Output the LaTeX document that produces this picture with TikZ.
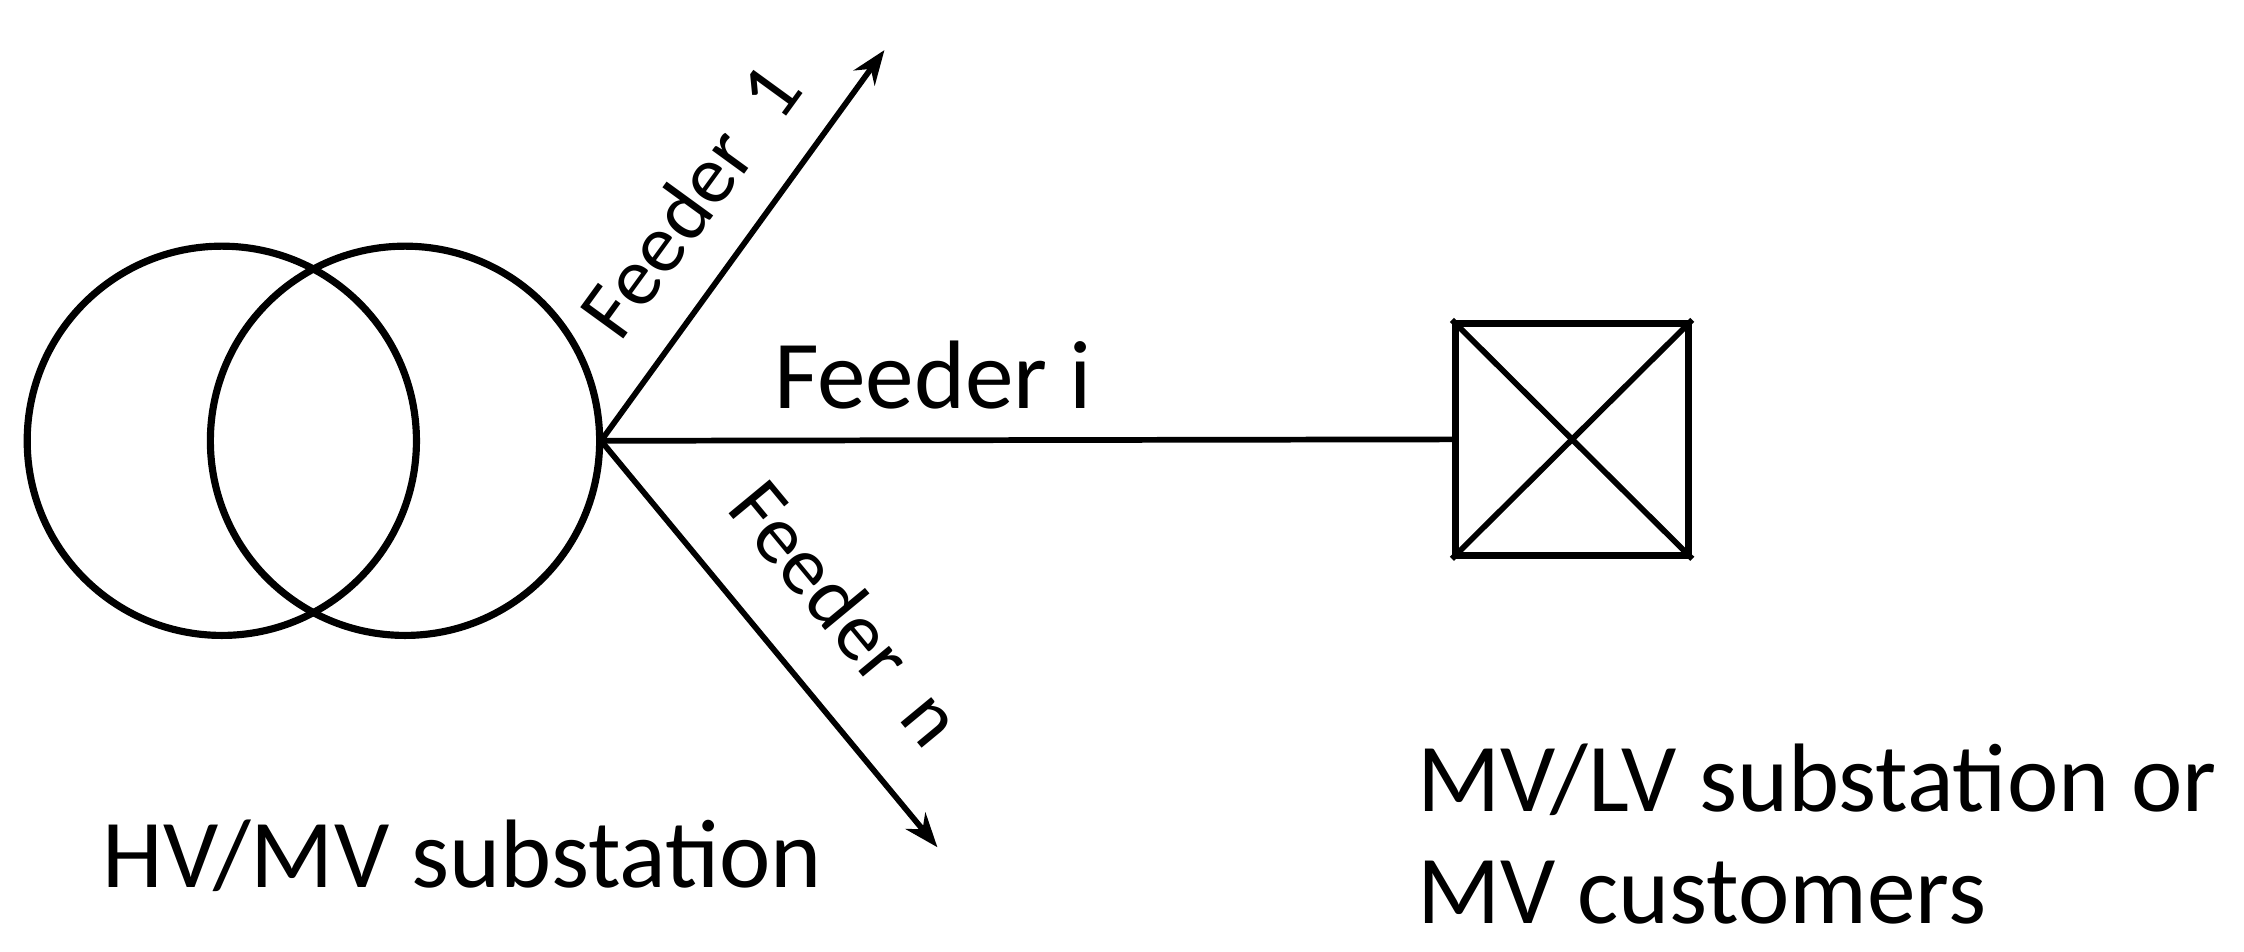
\documentclass[tikz,border=0pt]{standalone}
\usepackage{fontspec}
\setmainfont{Carlito}
\usetikzlibrary{arrows.meta}
\begin{document}
\begin{tikzpicture}[x=1pt,y=-1pt,
  ln/.style={line width=5pt},
  ar/.style={line width=4pt,-{Stealth[length=24pt,width=18pt]}},
  lbl/.style={font=\fontsize{68}{78}\selectfont,inner sep=0pt},
  rlbl/.style={font=\fontsize{58}{68}\selectfont,inner sep=0pt}]
\useasboundingbox (0,0) rectangle (1568,665);
\node[ln,draw,circle,minimum size=272pt,inner sep=0pt] (c1) at (155,308) {};
\node[ln,draw,circle,minimum size=272pt,inner sep=0pt] (c2) at (283,308) {};
\coordinate (hub) at (420,308);
\coordinate (f1) at (618,35);
\coordinate (fn) at (655,592);
\node[ln,draw,minimum width=163pt,minimum height=162pt,inner sep=0pt] (box) at (1098.5,307) {};
\draw[ar] (hub) -- (f1);
\draw[ar] (hub) -- (fn);
\draw[line width=4pt] (hub) -- (box.west);
\draw[line width=4pt] (box.north west) -- (box.south east);
\draw[line width=4pt] (box.south west) -- (box.north east);
\node[rlbl,rotate=54] (t1) at (482,140) {Feeder\ \ 1};
\node[rlbl,rotate=-50.4] (tn) at (592,428) {Feeder\ \ n};
\node[lbl] (ti) at (652,262) {Feeder\ i};
\node[lbl] (hv) at (323,598) {HV/MV substation};
\node[lbl,align=left,anchor=west] (mv) at (990,583) {MV/LV substation or\\MV customers};
\end{tikzpicture}
\end{document}
